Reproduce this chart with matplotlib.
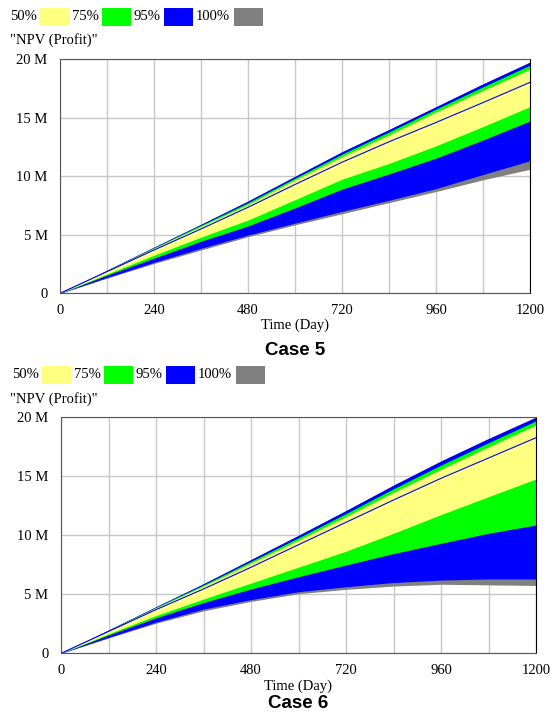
import matplotlib
matplotlib.use("Agg")
import matplotlib.pyplot as plt
from matplotlib.patches import Rectangle

# time axis (Day) and band values in millions
days = [0, 120, 240, 360, 480, 600, 720, 840, 960, 1080, 1200]

# Case 5
c5_max100 = [0, 1.98, 3.95, 5.9, 7.89, 10.0, 12.1, 14.0, 15.95, 17.9, 19.78]
c5_hi95 = [0, 1.98, 3.95, 5.9, 7.89, 10.0, 12.1, 14.0, 15.95, 17.9, 19.75]
c5_hi75 = [0, 1.95, 3.9, 5.82, 7.75, 9.85, 11.9, 13.8, 15.75, 17.65, 19.5]
c5_hi50 = [0, 1.93, 3.85, 5.72, 7.6, 9.7, 11.68, 13.55, 15.5, 17.35, 19.15]
c5_median = [0, 1.85, 3.7, 5.5, 7.35, 9.3, 11.2, 12.95, 14.6, 16.3, 18.03]
c5_lo50 = [0, 1.65, 3.25, 4.8, 6.26, 8.0, 9.75, 11.1, 12.6, 14.25, 15.95]
c5_lo75 = [0, 1.55, 3.0, 4.45, 5.75, 7.3, 8.9, 10.2, 11.55, 13.1, 14.73]
c5_lo95 = [0, 1.35, 2.65, 3.85, 4.98, 6.0, 7.0, 7.95, 8.95, 10.15, 11.33]
c5_min100 = [0, 1.3, 2.55, 3.7, 4.84, 5.85, 6.8, 7.75, 8.7, 9.7, 10.6]

# Case 6
c6_max100 = [0, 1.98, 3.95, 5.9, 7.95, 10.0, 12.1, 14.25, 16.3, 18.2, 20.05]
c6_hi95 = [0, 1.98, 3.95, 5.9, 7.95, 10.0, 12.1, 14.25, 16.3, 18.2, 20.0]
c6_hi75 = [0, 1.95, 3.9, 5.8, 7.8, 9.8, 11.85, 13.95, 15.95, 17.85, 19.7]
c6_hi50 = [0, 1.92, 3.85, 5.7, 7.65, 9.6, 11.6, 13.65, 15.6, 17.5, 19.35]
c6_median = [0, 1.85, 3.7, 5.45, 7.29, 9.2, 11.1, 12.99, 14.83, 16.55, 18.27]
c6_lo50 = [0, 1.65, 3.2, 4.6, 5.95, 7.3, 8.65, 10.17, 11.75, 13.27, 14.77]
c6_lo75 = [0, 1.55, 3.0, 4.3, 5.45, 6.49, 7.48, 8.45, 9.32, 10.17, 10.87]
c6_lo95 = [0, 1.35, 2.65, 3.75, 4.55, 5.22, 5.64, 6.0, 6.21, 6.3, 6.3]
c6_min100 = [0, 1.3, 2.55, 3.6, 4.4, 5.05, 5.42, 5.7, 5.85, 5.8, 5.75]

legend_labels = ["50%", "75%", "95%", "100%"]
band_colors = ["#ffff80", "#00ff00", "#0000ff", "#808080"]
ytick_vals = [0, 5, 10, 15, 20]
ytick_labels = ["0", "5 M", "10 M", "15 M", "20 M"]
xtick_major = [0, 240, 480, 720, 960, 1200]
xtick_minor = [120, 360, 600, 840, 1080]

serif = "Liberation Serif"
W, H = 552, 713

fig = plt.figure(figsize=(5.52, 7.13), dpi=100)


def px(x, y):
    return x / W, 1 - y / H


def legend_row(x0, y0):
    # text + swatch pairs, positions in pixels
    text_x = [x0, x0 + 62, x0 + 123, x0 + 186]
    sw_x = [x0 + 30, x0 + 92, x0 + 154, x0 + 224]
    for lab, col, tx, sx in zip(legend_labels, band_colors, text_x, sw_x):
        fx, fy = px(tx, y0)
        fig.text(fx, fy, lab, family=serif, fontsize=10.5, va="center", ha="left")
        rx, ry = px(sx, y0 + 9)
        fig.add_artist(Rectangle((rx, ry), 29 / W, 18 / H, transform=fig.transFigure,
                                 facecolor=col, edgecolor="none"))


def panel(rect, bands, median, title, title_y, label_y, ylab_y):
    mx, h95, h75, h50, lo50, lo75, lo95, mn = bands
    ax = fig.add_axes(rect)
    ax.fill_between(days, mn, mx, color="#808080", lw=0)
    ax.fill_between(days, lo95, h95, color="#0000ff", lw=0)
    ax.fill_between(days, lo75, h75, color="#00ff00", lw=0)
    ax.fill_between(days, lo50, h50, color="#ffff80", lw=0)
    ax.plot(days, median, color="#0000ff", lw=0.8)
    ax.set_xlim(0, 1200)
    ax.set_ylim(0, 20)
    ax.set_xticks(xtick_major)
    ax.set_xticks(xtick_minor, minor=True)
    ax.set_yticks(ytick_vals)
    ax.set_yticklabels(ytick_labels)
    ax.grid(True, which="both", color="#c8c8c8", lw=1)
    ax.set_axisbelow(True)
    ax.tick_params(which="both", length=0)
    ax.tick_params(axis="x", pad=8)
    ax.tick_params(axis="y", pad=9)
    for lab in ax.get_xticklabels() + ax.get_yticklabels():
        lab.set_family(serif)
        lab.set_fontsize(10.5)
    for s in ["left", "bottom", "top"]:
        ax.spines[s].set_color("#555555")
    ax.spines["right"].set_color("#000000")
    fx, fy = px(10, ylab_y)
    fig.text(fx, fy, '"NPV (Profit)"', family=serif, fontsize=10.5, va="center")
    cx = rect[0] + rect[2] / 2
    fig.text(cx, 1 - label_y / H, "Time (Day)", family=serif, fontsize=10.5,
             ha="center", va="center")
    fig.text(cx, 1 - title_y / H, title, family="Liberation Sans", fontsize=13.5,
             fontweight="bold", ha="center", va="center")
    return ax


legend_row(10, 17)
panel([60 / W, 1 - 293.3 / H, 470 / W, 234 / H],
      [c5_max100, c5_hi95, c5_hi75, c5_hi50, c5_lo50, c5_lo75, c5_lo95, c5_min100],
      c5_median, "Case 5", 351, 325, 40)

legend_row(12, 375)
panel([61 / W, 1 - 653.3 / H, 475 / W, 236 / H],
      [c6_max100, c6_hi95, c6_hi75, c6_hi50, c6_lo50, c6_lo75, c6_lo95, c6_min100],
      c6_median, "Case 6", 704, 686, 399)

fig.savefig("out.png", dpi=100)
